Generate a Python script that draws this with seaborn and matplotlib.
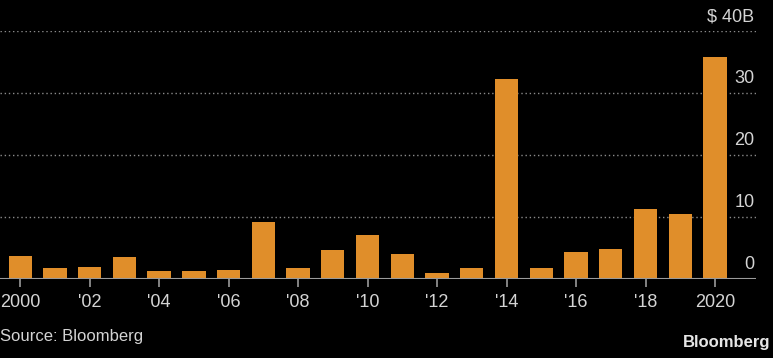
import matplotlib
matplotlib.use("Agg")
import matplotlib.pyplot as plt
import seaborn as sns
import pandas as pd

# -------------------------------
# Data ($ billions)
# -------------------------------
years = [str(y) for y in range(2000, 2021)]
values = [3.7, 1.8, 2.0, 3.5, 1.3, 1.25, 1.5, 9.2, 1.8, 4.7, 7.1,
          4.1, 0.9, 1.7, 32.3, 1.7, 4.3, 4.9, 11.3, 10.5, 35.8]
tick_years = ["2000", "'02", "'04", "'06", "'08", "'10",
              "'12", "'14", "'16", "'18", "2020"]
y_ticks = [0, 10, 20, 30, 40]
y_labels = ["0", "10", "20", "30", "$ 40B"]

df = pd.DataFrame({"Year": years, "Value": values})

# -------------------------------
# Style
# -------------------------------
sns.set_style("dark")
plt.rcParams["font.family"] = ["Liberation Sans", "DejaVu Sans"]
bg = "black"
bar_color = "#E08E2A"
text_color = "#d4d4d4"
grid_color = "#8a8a8a"

fig = plt.figure(figsize=(7.73, 3.58), dpi=100, facecolor=bg)
ax = fig.add_axes([0.0, 1 - 279 / 358, 756 / 773, (279 - 31) / 358])
ax.set_facecolor(bg)

sns.barplot(data=df, x="Year", y="Value", color=bar_color, width=0.67,
            saturation=1, ax=ax, zorder=3, edgecolor="none", linewidth=0)

ax.set_xlim(-0.58, 21.18)
ax.set_ylim(0, 40)

# gridlines (dotted) and baseline
for v in y_ticks[1:]:
    ax.axhline(v, color=grid_color, linestyle=(0, (1, 2)), linewidth=1, zorder=1)
ax.axhline(0, color="#9a9a9a", linewidth=1.5, zorder=4)

for s in ax.spines.values():
    s.set_visible(False)

# y labels sit above gridlines at right
ax.set_yticks([])
for v, lab in zip(y_ticks, y_labels):
    ax.annotate(lab, xy=(1, v), xycoords=("axes fraction", "data"),
                xytext=(-1, 4), textcoords="offset points",
                ha="right", va="bottom", color=text_color, fontsize=13)

# x ticks on even years
ax.set_xticks(range(0, 21, 2))
ax.set_xticklabels(tick_years, color=text_color, fontsize=13)
ax.tick_params(axis="x", length=6, width=1.2, color="#9a9a9a", pad=5,
               bottom=True)
ax.set_xlabel("")
ax.set_ylabel("")
ax.grid(False)

fig.text(0.0, 1 - 337 / 358, "Source: Bloomberg", color=text_color,
         fontsize=12, ha="left", va="center")
fig.text(0.997, 1 - 342 / 358, "Bloomberg", color="#e6e6e6",
         fontsize=12, fontweight="bold", ha="right", va="center")

fig.savefig("out.png", dpi=100, facecolor=bg)
